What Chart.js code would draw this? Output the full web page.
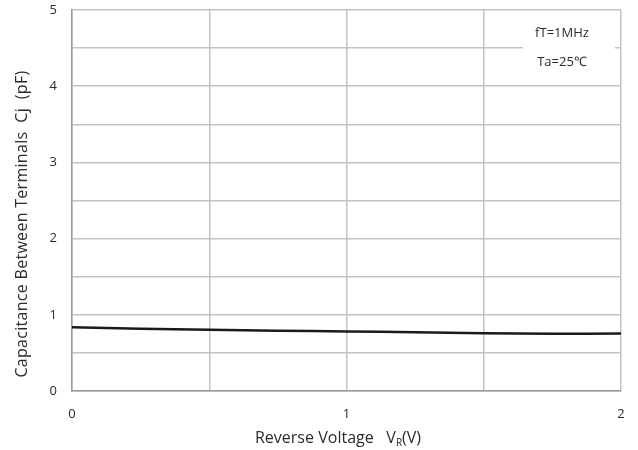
<!DOCTYPE html>
<html>
<head>
<meta charset="utf-8">
<script src="https://cdn.jsdelivr.net/npm/chart.js@4"></script>
<style>
  html, body { margin: 0; padding: 0; background: #fff; }
  #wrap { width: 638px; height: 450px; }
</style>
</head>
<body>
<div id="wrap"><canvas id="chart"></canvas></div>
<script>
// data
const voltage = [0, 0.25, 0.5, 0.75, 1.0, 1.25, 1.5, 1.75, 2.0];
const capacitance = [0.835, 0.818, 0.803, 0.792, 0.782, 0.771, 0.758, 0.752, 0.755];
const xTickLabels = ['0', '1', '2'];
const yTickLabels = ['0', '1', '2', '3', '4', '5'];
const noteLines = ['fT=1MHz', 'Ta=25\u2103'];

const FONT = '"Open Sans", "Liberation Sans", sans-serif';
const TEXT = '#2b2b2b';

// stretch letter spacing so a string fills a given width
function spaced(ctx, text, target) {
    ctx.letterSpacing = '0px';
    const w = ctx.measureText(text).width;
    const extra = Math.max(0, (target - w) / text.length);
    ctx.letterSpacing = extra.toFixed(2) + 'px';
}

// axis titles and the note box, drawn on the canvas as text
const extras = {
    id: 'extras',
    afterDraw(chart) {
        const ctx = chart.ctx;
        const area = chart.chartArea;
        ctx.save();

        // note box in the top right corner
        ctx.fillStyle = '#fff';
        ctx.fillRect(523, area.top + 1.5, 92, 70);
        ctx.fillStyle = TEXT;
        ctx.font = '13px ' + FONT;
        ctx.textAlign = 'center';
        ctx.textBaseline = 'middle';
        ctx.fillText(noteLines[0], 562, 33);
        ctx.fillText(noteLines[1], 562, 62);

        // x title with subscript R
        const main = 'Reverse Voltage   V';
        ctx.font = '16px ' + FONT;
        spaced(ctx, main + '(V)', 160);
        const mainW = ctx.measureText(main).width;
        const tailW = ctx.measureText('(V)').width;
        ctx.font = '10px ' + FONT;
        const subW = ctx.measureText('R').width;
        let x = 338 - (mainW + subW + tailW) / 2;
        ctx.textAlign = 'left';
        ctx.textBaseline = 'alphabetic';
        ctx.font = '16px ' + FONT;
        ctx.fillText(main, x, 443);
        x += mainW;
        ctx.font = '10px ' + FONT;
        ctx.fillText('R', x, 446);
        x += subW;
        ctx.font = '16px ' + FONT;
        ctx.fillText('(V)', x, 443);

        // y title
        const yTitle = 'Capacitance Between Terminals  Cj  (pF)';
        ctx.font = '16px ' + FONT;
        spaced(ctx, yTitle, 307);
        ctx.translate(22, 224);
        ctx.rotate(-Math.PI / 2);
        ctx.textAlign = 'center';
        ctx.textBaseline = 'middle';
        ctx.fillText(yTitle, 0, 0);
        ctx.restore();
    }
};

new Chart(document.getElementById('chart'), {
    type: 'line',
    data: {
        datasets: [{
            data: voltage.map((v, i) => ({ x: v, y: capacitance[i] })),
            borderColor: '#1a1a1a',
            borderWidth: 2.5,
            pointRadius: 0,
            tension: 0.4,
            fill: false
        }]
    },
    options: {
        responsive: true,
        maintainAspectRatio: false,
        animation: false,
        layout: { padding: { left: 0, right: 17, top: 10, bottom: 0 } },
        plugins: {
            legend: { display: false },
            tooltip: { enabled: false }
        },
        scales: {
            x: {
                type: 'linear',
                min: 0,
                max: 2,
                afterFit(scale) {
                    scale.height = 59;
                    scale.paddingLeft = 0;
                    scale.paddingRight = 0;
                },
                ticks: {
                    stepSize: 0.5,
                    autoSkip: false,
                    maxRotation: 0,
                    padding: 15,
                    color: TEXT,
                    font: { family: FONT, size: 13 },
                    callback: v => Number.isInteger(v) ? xTickLabels[v] : ''
                },
                grid: { color: '#c4c4c4', lineWidth: 1.5, drawTicks: false },
                border: { color: '#999', width: 1.5 }
            },
            y: {
                min: 0,
                max: 5,
                afterFit(scale) {
                    scale.width = 72;
                    scale.paddingTop = 0;
                    scale.paddingBottom = 0;
                },
                ticks: {
                    stepSize: 0.5,
                    autoSkip: false,
                    padding: 15,
                    color: TEXT,
                    font: { family: FONT, size: 13 },
                    callback: v => Number.isInteger(v) ? yTickLabels[v] : ''
                },
                grid: { color: '#c4c4c4', lineWidth: 1.5, drawTicks: false },
                border: { color: '#999', width: 1.5 }
            }
        }
    },
    plugins: [extras]
});
</script>
</body>
</html>
